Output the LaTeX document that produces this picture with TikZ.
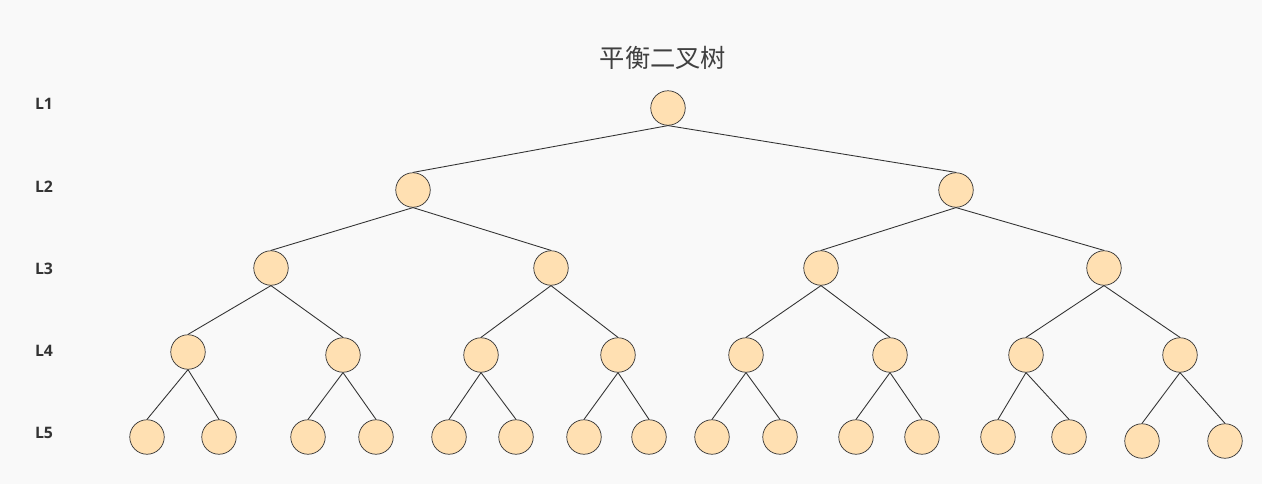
\documentclass[tikz,border=0pt]{standalone}
\usepackage{fontspec}
\setmainfont{Open Sans}
\newfontfamily\cjk{Noto Sans CJK SC}
\definecolor{nodefill}{HTML}{FFE0B2}
\definecolor{bgcol}{HTML}{F9F9F9}
\begin{document}
\begin{tikzpicture}[x=0.02cm,y=-0.02cm,
  vert/.style={circle,draw=black!80,fill=nodefill,minimum size=0.69cm,inner sep=0pt},
  lvl/.style={font=\bfseries\small,text=black!80},
  edge/.style={draw=black!80,line width=0.5pt}]
\fill[bgcol] (0,0) rectangle (1262,484);
\node[font=\cjk\Large,text=black!75] (title) at (663,58) {平衡二叉树};
\foreach \k/\y in {1/104,2/187,3/269,4/351,5/433}{\node[lvl] (L\k) at (44,\y) {L\k};}
\node[vert] (n1) at (668,108) {};
\foreach \n/\x in {2/413,3/956}{\node[vert] (n\n) at (\x,190) {};}
\foreach \n/\x in {4/271,5/551,6/821,7/1104}{\node[vert] (n\n) at (\x,268) {};}
\foreach \n/\x/\y in {8/188/352,9/343/355,10/481/355,11/618/355,12/746/355,13/890/355,14/1026/355,15/1180/355}{\node[vert] (n\n) at (\x,\y) {};}
\foreach \n/\x/\y in {16/147/437,17/219/437,18/308/437,19/376/437,20/449/437,21/516/437,22/584/437,23/649/437,24/712/437,25/780/437,26/856/437,27/922/437,28/998/437,29/1069/437,30/1142/441,31/1225/441}{\node[vert] (n\n) at (\x,\y) {};}
\foreach \c in {2,...,31}{
  \pgfmathtruncatemacro{\p}{\c/2}
  \draw[edge] (n\p.south) -- (n\c.north);}
\end{tikzpicture}
\end{document}
